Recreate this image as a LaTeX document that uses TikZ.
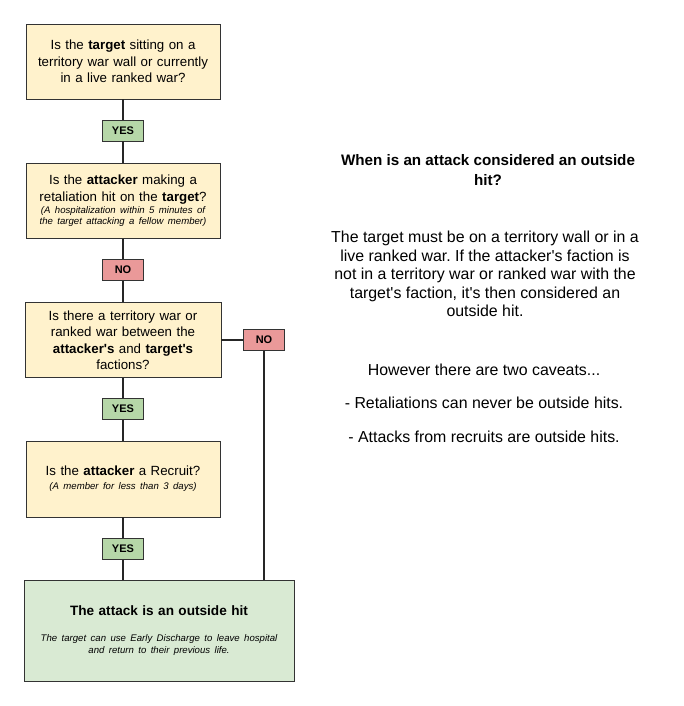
\documentclass[tikz,border=0pt]{standalone}
\usepackage{fontspec}
\setmainfont{Liberation Sans}
\usetikzlibrary{positioning}

\definecolor{qfill}{HTML}{FFF2CC}
\definecolor{yesfill}{HTML}{B6D7A8}
\definecolor{nofill}{HTML}{EA9999}
\definecolor{hitfill}{HTML}{D9EAD3}
\definecolor{edge}{HTML}{333333}

\newcommand{\mainsize}{\fontsize{13.3}{16.5}\selectfont}
\newcommand{\notesize}{\fontsize{9.6}{11.3}\selectfont}
\newcommand{\sidesize}{\fontsize{15.9}{18.5}\selectfont}
\newcommand{\ap}{\textquotesingle}

\tikzset{
    question/.style={rectangle, draw=edge, fill=qfill, line width=0.9pt, minimum width=194pt, minimum height=75pt, text width=186pt, align=center, inner sep=0pt, font=\mainsize},
    answer/.style={rectangle, draw=edge, line width=0.9pt, minimum width=41pt, minimum height=21pt, inner sep=0pt, font=\fontsize{11}{13}\selectfont\bfseries},
    yesbox/.style={answer, fill=yesfill},
    nobox/.style={answer, fill=nofill},
    link/.style={draw=black!85, line width=1.6pt},
    sidetext/.style={align=center, inner sep=0pt, font=\sidesize},
}

\begin{document}
\frenchspacing
\begin{tikzpicture}[x=1pt, y=-1pt]
    \useasboundingbox (0,0) rectangle (683,706);

    % Question boxes down the left
    \node[question] (q1) at (123,61.5) {Is the \textbf{target} sitting on a\\ territory war wall or currently\\ in a live ranked war?};
    \node[question] (q2) at (123,201) {Is the \textbf{attacker} making a\\ retaliation hit on the \textbf{target}?\par
        {\notesize\itshape\vspace{1pt}(A hospitalization within 5 minutes of\\ the target attacking a fellow member)\par}};
    \node[question, minimum width=196pt] (q3) at (123,340) {Is there a territory war or\\ ranked war between the\\ \textbf{attacker\ap s} and \textbf{target\ap s}\\ factions?};
    \node[question, minimum height=76pt] (q4) at (123,479) {Is the \textbf{attacker} a Recruit?\par
        {\notesize\itshape\vspace{3pt}(A member for less than 3 days)\par}};
    \node[question, fill=hitfill, minimum width=270pt, minimum height=101pt, text width=260pt] (hit) at (159,630.5) {{\fontsize{13.6}{16}\selectfont\bfseries The attack is an outside hit\par}
        {\notesize\itshape\vspace{15pt}The target can use Early Discharge to leave hospital\\ and return to their previous life.\par}};

    % Answer labels
    \node[yesbox] (yes1) at (123,130.5) {YES};
    \node[nobox] (no1) at (123,270) {NO};
    \node[nobox] (no2) at (264,340) {NO};
    \node[yesbox] (yes2) at (123,409) {YES};
    \node[yesbox] (yes3) at (123,549) {YES};

    % Connectors
    \draw[link] (q1) -- (yes1);
    \draw[link] (yes1) -- (q2);
    \draw[link] (q2) -- (no1);
    \draw[link] (no1) -- (q3);
    \draw[link] (q3) -- (yes2);
    \draw[link] (yes2) -- (q4);
    \draw[link] (q4) -- (yes3);
    \draw[link] (yes3) -- (yes3 |- hit.north);
    \draw[link] (q3) -- (no2);
    \draw[link] (no2) -- (no2 |- hit.north);

    % Explanation on the right
    \node[sidetext, font=\fontsize{15.2}{20}\selectfont\bfseries] (title) at (488,170) {When is an attack considered an outside\\ hit?};
    \node[sidetext] (body) at (485,274) {The target must be on a territory wall or in a\\ live ranked war. If the attacker\ap s faction is\\ not in a territory war or ranked war with the\\ target\ap s faction, it\ap s then considered an\\ outside hit.};
    \node[sidetext] (caveats) at (484,370) {However there are two caveats...};
    \node[sidetext] (retal) at (484,403) {- Retaliations can never be outside hits.};
    \node[sidetext] (recruit) at (484,437) {- Attacks from recruits are outside hits.};
\end{tikzpicture}
\end{document}
